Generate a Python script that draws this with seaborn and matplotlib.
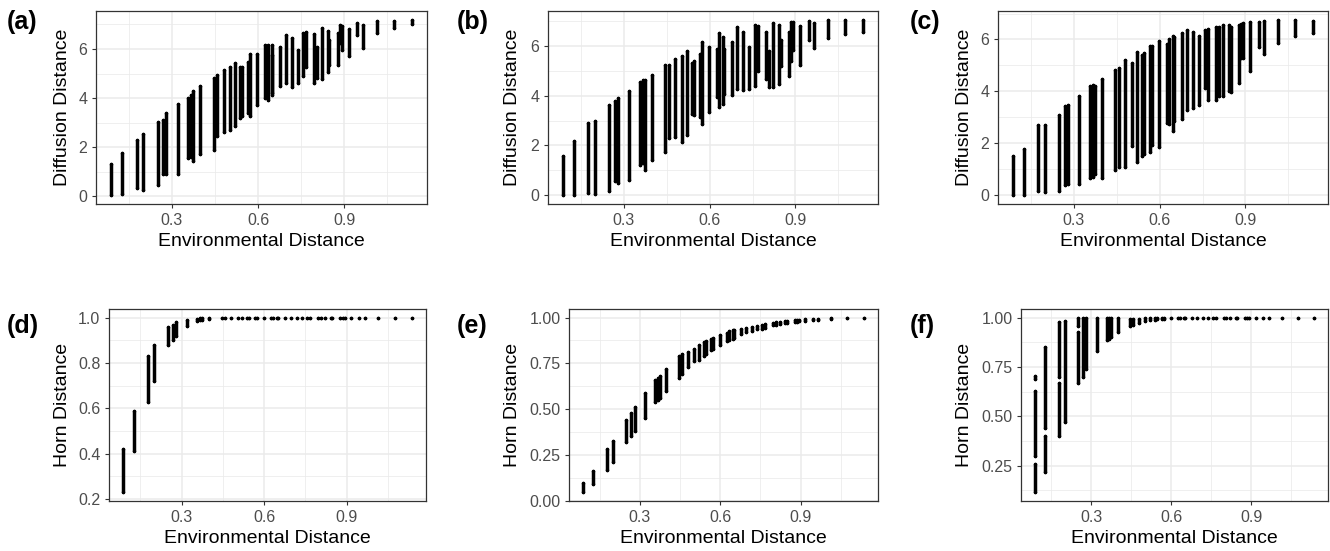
import matplotlib
matplotlib.use("Agg")
import matplotlib.pyplot as plt
import seaborn as sns
import pandas as pd
import numpy as np

sns.set_theme(style="white")
plt.rcParams['font.family'] = ['Liberation Sans', 'DejaVu Sans']

# ---------------- data ----------------
ENV_X = [0.088, 0.125, 0.177, 0.200, 0.250, 0.268, 0.281, 0.320, 0.357, 0.366,
         0.375, 0.399, 0.445, 0.457, 0.480, 0.503, 0.520, 0.538, 0.545, 0.566,
         0.573, 0.598, 0.625, 0.633, 0.647, 0.650, 0.677, 0.696, 0.718, 0.738,
         0.757, 0.768, 0.796, 0.807, 0.821, 0.842, 0.848, 0.877, 0.886, 0.893,
         0.917, 0.946, 0.965, 1.014, 1.074, 1.136]

A_MIN = [0.04, 0.07, 0.34, 0.27, 0.45, 0.89, 0.89, 0.89, 1.54, 1.58,
         1.45, 1.74, 1.88, 2.46, 2.63, 2.68, 2.86, 3.19, 3.26, 3.40,
         3.26, 3.73, 4.00, 3.93, 4.13, 4.20, 4.50, 4.63, 4.44, 4.63,
         4.90, 5.27, 4.60, 4.80, 4.77, 5.07, 5.34, 5.34, 6.24, 5.95,
         5.70, 6.55, 6.05, 6.64, 6.86, 7.00]
A_MAX = [1.32, 1.78, 2.30, 2.55, 3.03, 3.10, 3.40, 3.76, 4.00, 4.13,
         4.27, 4.51, 4.83, 4.94, 5.14, 5.27, 5.41, 5.27, 5.27, 5.48,
         5.81, 5.81, 6.15, 6.17, 6.17, 5.74, 6.10, 6.55, 6.46, 5.97,
         6.66, 6.68, 6.62, 6.08, 6.86, 6.75, 6.38, 6.64, 6.99, 6.95,
         6.82, 7.06, 6.99, 7.13, 7.15, 7.19]

B_MIN = [0.00, 0.00, 0.09, 0.05, 0.16, 0.56, 0.49, 0.62, 1.22, 1.29,
         1.02, 1.42, 1.72, 2.29, 2.35, 2.13, 2.42, 3.28, 3.22, 3.15,
         2.86, 3.35, 3.95, 3.55, 3.68, 4.08, 4.02, 4.28, 4.22, 4.28,
         4.37, 5.01, 4.68, 4.35, 4.35, 4.48, 5.21, 4.81, 5.41, 5.84,
         5.24, 6.25, 5.92, 6.32, 6.48, 6.54]
B_MAX = [1.56, 2.18, 2.91, 2.99, 3.62, 3.79, 3.92, 4.18, 4.55, 4.65,
         4.61, 4.85, 5.25, 5.25, 5.48, 5.61, 5.78, 5.32, 5.41, 5.68,
         6.14, 5.97, 5.88, 6.53, 6.34, 5.88, 6.14, 6.74, 6.54, 5.94,
         6.84, 6.81, 6.54, 5.81, 6.94, 6.85, 6.24, 6.54, 6.98, 6.98,
         6.81, 7.01, 6.91, 7.05, 7.05, 7.05]

C_MIN = [0.00, 0.00, 0.16, 0.13, 0.15, 0.38, 0.44, 0.44, 0.67, 0.70,
         0.82, 0.67, 0.99, 1.08, 1.08, 1.90, 1.27, 1.52, 1.59, 1.65,
         1.93, 1.84, 2.79, 2.73, 2.47, 2.86, 2.94, 3.30, 3.36, 3.49,
         4.12, 3.68, 3.68, 3.81, 3.81, 4.00, 3.96, 4.31, 5.27, 5.27,
         4.80, 5.71, 5.46, 5.86, 6.15, 6.26]
C_MAX = [1.52, 1.80, 2.69, 2.69, 3.11, 3.45, 3.49, 3.83, 4.21, 4.25,
         4.21, 4.47, 4.82, 4.92, 5.20, 5.10, 5.52, 5.39, 5.49, 5.75,
         5.75, 5.93, 5.84, 6.03, 6.12, 6.09, 6.24, 6.35, 6.28, 6.15,
         6.37, 6.41, 6.47, 6.47, 6.54, 6.57, 6.50, 6.57, 6.60, 6.62,
         6.69, 6.69, 6.73, 6.76, 6.76, 6.73]

D_MIN = [0.23, 0.41, 0.63, 0.72, 0.88, 0.90, 0.92, 0.965, 0.985, 0.99,
         0.99, 0.995, 0.997, 0.998, 1.0, 1.0, 1.0, 1.0, 1.0, 1.0,
         1.0, 1.0, 1.0, 1.0, 1.0, 1.0, 1.0, 1.0, 1.0, 1.0,
         1.0, 1.0, 1.0, 1.0, 1.0, 1.0, 1.0, 1.0, 1.0, 1.0,
         1.0, 1.0, 1.0, 1.0, 1.0, 1.0]
D_MAX = [0.42, 0.59, 0.83, 0.88, 0.96, 0.97, 0.98, 0.99, 0.995, 1.0,
         1.0, 1.0, 1.0, 1.0, 1.0, 1.0, 1.0, 1.0, 1.0, 1.0,
         1.0, 1.0, 1.0, 1.0, 1.0, 1.0, 1.0, 1.0, 1.0, 1.0,
         1.0, 1.0, 1.0, 1.0, 1.0, 1.0, 1.0, 1.0, 1.0, 1.0,
         1.0, 1.0, 1.0, 1.0, 1.0, 1.0]

E_MIN = [0.045, 0.09, 0.165, 0.21, 0.32, 0.35, 0.38, 0.45, 0.54, 0.55,
         0.56, 0.60, 0.67, 0.69, 0.73, 0.76, 0.77, 0.79, 0.80, 0.82,
         0.83, 0.85, 0.87, 0.875, 0.885, 0.89, 0.91, 0.92, 0.925, 0.935,
         0.94, 0.945, 0.96, 0.96, 0.965, 0.97, 0.97, 0.977, 0.978, 0.98,
         0.983, 0.986, 0.988, 0.992, 0.995, 0.997]
E_MAX = [0.095, 0.16, 0.28, 0.325, 0.44, 0.48, 0.51, 0.59, 0.66, 0.67,
         0.68, 0.72, 0.79, 0.80, 0.81, 0.83, 0.85, 0.865, 0.87, 0.88,
         0.89, 0.905, 0.915, 0.925, 0.93, 0.93, 0.94, 0.945, 0.95, 0.955,
         0.96, 0.965, 0.97, 0.975, 0.975, 0.98, 0.98, 0.985, 0.986, 0.987,
         0.99, 0.992, 0.993, 0.996, 0.998, 0.999]

F_X = [0.088, 0.088, 0.088, 0.125, 0.125, 0.177, 0.177, 0.200, 0.250, 0.250,
       0.268, 0.281, 0.320, 0.357, 0.366, 0.375, 0.399, 0.445, 0.457, 0.480,
       0.503, 0.520, 0.538, 0.545, 0.566, 0.573, 0.598, 0.625, 0.633, 0.647,
       0.650, 0.677, 0.696, 0.718, 0.738, 0.757, 0.768, 0.796, 0.807, 0.821,
       0.842, 0.848, 0.877, 0.886, 0.893, 0.917, 0.946, 0.965, 1.014, 1.074,
       1.136]
F_MIN = [0.115, 0.30, 0.69, 0.22, 0.44, 0.40, 0.70, 0.47, 0.67, 0.96,
         0.70, 0.74, 0.83, 0.885, 0.89, 0.90, 0.93, 0.96, 0.965, 0.975,
         0.985, 0.99, 0.99, 0.992, 0.995, 0.995, 1.0, 1.0, 1.0, 1.0,
         1.0, 1.0, 1.0, 1.0, 1.0, 1.0, 1.0, 1.0, 1.0, 1.0,
         1.0, 1.0, 1.0, 1.0, 1.0, 1.0, 1.0, 1.0, 1.0, 1.0,
         1.0]
F_MAX = [0.26, 0.63, 0.705, 0.40, 0.85, 0.67, 0.98, 0.985, 0.93, 1.0,
         1.0, 1.0, 1.0, 1.0, 1.0, 1.0, 1.0, 0.995, 0.995, 0.995,
         1.0, 1.0, 1.0, 1.0, 1.0, 1.0, 1.0, 1.0, 1.0, 1.0,
         1.0, 1.0, 1.0, 1.0, 1.0, 1.0, 1.0, 1.0, 1.0, 1.0,
         1.0, 1.0, 1.0, 1.0, 1.0, 1.0, 1.0, 1.0, 1.0, 1.0,
         1.0]

PANEL_LETTERS = ["(a)", "(b)", "(c)", "(d)", "(e)", "(f)"]
X_LABEL = "Environmental Distance"
Y_LABELS = ["Diffusion Distance", "Diffusion Distance", "Diffusion Distance",
            "Horn Distance", "Horn Distance", "Horn Distance"]
X_TICKS = [0.3, 0.6, 0.9]
X_TICKLABELS = ["0.3", "0.6", "0.9"]
Y_TICKS = [[0, 2, 4, 6], [0, 2, 4, 6], [0, 2, 4, 6],
           [0.2, 0.4, 0.6, 0.8, 1.0], [0.00, 0.25, 0.50, 0.75, 1.00],
           [0.25, 0.50, 0.75, 1.00]]
Y_TICKLABELS = [["0", "2", "4", "6"], ["0", "2", "4", "6"], ["0", "2", "4", "6"],
                ["0.2", "0.4", "0.6", "0.8", "1.0"],
                ["0.00", "0.25", "0.50", "0.75", "1.00"],
                ["0.25", "0.50", "0.75", "1.00"]]

# ---------------- figure / layout ----------------
W, H = 1330, 551
fig = plt.figure(figsize=(W / 100, H / 100), dpi=100)

# pixel boxes: left, top, right, bottom
boxes = [(96, 11, 427, 204), (548, 11, 878, 204), (998, 11, 1328, 204),
         (109, 309, 426, 501), (569, 309, 878, 501), (1021, 309, 1328, 501)]
ylabel_right = [71, 521, 973, 71, 521, 973]
letter_pos = [(7, 22), (457, 22), (910, 22), (7, 326), (457, 326), (910, 326)]

datasets = [(ENV_X, A_MIN, A_MAX), (ENV_X, B_MIN, B_MAX), (ENV_X, C_MIN, C_MAX),
            (ENV_X, D_MIN, D_MAX), (ENV_X, E_MIN, E_MAX), (F_X, F_MIN, F_MAX)]

GRID = "#EBEBEB"
BORDER = "#333333"
TICKCOL = "#4D4D4D"

for i, (box, (xs, lo, hi)) in enumerate(zip(boxes, datasets)):
    l, t, r, b = box
    ax = fig.add_axes([l / W, 1 - b / H, (r - l) / W, (b - t) / H])
    ax.set_facecolor("white")

    rows = []
    for k, (x, y0, y1) in enumerate(zip(xs, lo, hi)):
        rows.append((k, x, y0))
        rows.append((k, x, y1))
    df = pd.DataFrame(rows, columns=["seg", "x", "y"])

    sns.lineplot(data=df, x="x", y="y", units="seg", estimator=None, sort=False,
                 color="black", linewidth=2.5, solid_capstyle="round",
                 legend=False, ax=ax, zorder=3)
    sns.scatterplot(data=df, x="x", y="y", color="black", s=6.5, linewidth=0,
                    legend=False, ax=ax, zorder=4)

    ax.set_xticks(X_TICKS)
    ax.set_xticklabels(X_TICKLABELS)
    ax.set_yticks(Y_TICKS[i])
    ax.set_yticklabels(Y_TICKLABELS[i])
    # minor grid between majors
    xt = X_TICKS
    xminor = [xt[0] - 0.15] + [(a + c) / 2 for a, c in zip(xt[:-1], xt[1:])] + [xt[-1] + 0.15]
    yt = Y_TICKS[i]
    step = yt[1] - yt[0]
    yminor = [yt[0] - step / 2] + [(a + c) / 2 for a, c in zip(yt[:-1], yt[1:])] + [yt[-1] + step / 2]
    ax.set_xticks(xminor, minor=True)
    ax.set_yticks(yminor, minor=True)

    # limits with ggplot-style 5% expansion (set after ticks)
    allx = list(xs)
    ally = list(lo) + list(hi)
    xr = max(allx) - min(allx)
    yr = max(ally) - min(ally)
    ax.set_xlim(min(allx) - 0.05 * xr, max(allx) + 0.05 * xr)
    ax.set_ylim(min(ally) - 0.05 * yr, max(ally) + 0.05 * yr)

    ax.grid(True, which="major", color=GRID, linewidth=1.1, zorder=0)
    ax.grid(True, which="minor", color=GRID, linewidth=0.55, zorder=0)
    ax.set_axisbelow(True)
    ax.tick_params(which="minor", length=0)
    ax.tick_params(which="major", length=3.2, width=0.8, color=BORDER,
                   labelcolor=TICKCOL, labelsize=11.5, pad=3,
                   bottom=True, left=True)
    for sp in ax.spines.values():
        sp.set_color(BORDER)
        sp.set_linewidth(0.9)
        sp.set_visible(True)

    ax.set_xlabel(X_LABEL, fontsize=14, color="black", labelpad=4)
    ax.set_ylabel(Y_LABELS[i], fontsize=14, color="black")
    ax.yaxis.set_label_coords((ylabel_right[i] - l) / (r - l), 0.5)

    lx, ly = letter_pos[i]
    fig.text(lx / W, 1 - ly / H, PANEL_LETTERS[i], fontsize=18, fontweight="bold",
             ha="left", va="center", color="black")

fig.savefig("out.png", dpi=100)
